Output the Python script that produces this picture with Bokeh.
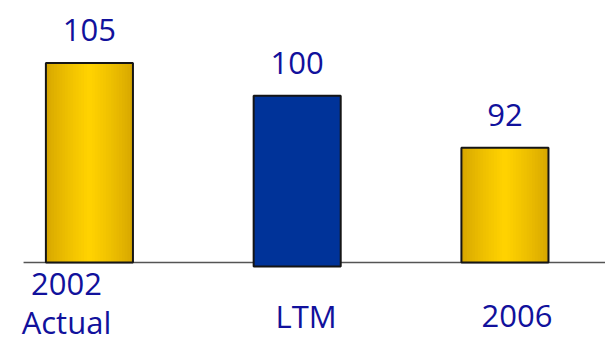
import numpy as np
from bokeh.plotting import figure
from bokeh.models import ColumnDataSource, Range1d
from bokeh.core.properties import value
from bokeh.embed import file_html
from bokeh.resources import INLINE

# ---- data ----
categories = ["2002\nActual", "LTM", "2006"]
values = [105, 100, 92]
value_labels = ["105", "100", "92"]
bar_kind = ["gold", "blue", "gold"]

# ---- layout / style ----
BASE = 74.4            # truncated value axis baseline
BAR_W = 0.419
label_dx = [-23, 9, 12]      # px offsets of category labels
label_dy = [21, 53, 53]      # px below baseline of first line
LINE_H = 38
VAL_DY = -33
TEXT_COLOR = "#11119c"
FONT = "Open Sans"
FSIZE = "31px"

xs = list(range(len(categories)))

p = figure(width=605, height=337,
           x_range=Range1d(-0.428, 2.484), y_range=Range1d(62.9, 114.6),
           output_backend="svg", toolbar_location=None, min_border=0)
p.axis.visible = False
p.grid.visible = False
p.outline_line_color = None
p.background_fill_color = "white"

# baseline
p.segment(x0=[-0.317], y0=[BASE], x1=[2.484], y1=[BASE],
          line_color="#555555", line_width=1.5)

# gold bars with simulated horizontal gradient
gold_x = [x for x, k in zip(xs, bar_kind) if k == "gold"]
gold_top = [v for v, k in zip(values, bar_kind) if k == "gold"]
edge = np.array([0xd6, 0xa6, 0x00], dtype=float)
center = np.array([0xff, 0xd2, 0x00], dtype=float)
N = 16
for k in range(N):
    frac = 1 - k / N
    t = (k / (N - 1)) ** 0.8
    c = edge + (center - edge) * t
    col = "#%02x%02x%02x" % tuple(int(round(v)) for v in c)
    p.vbar(x=gold_x, top=gold_top, bottom=BASE, width=BAR_W * frac,
           fill_color=col, line_color=None)

# blue bar
blue_x = [x for x, k in zip(xs, bar_kind) if k == "blue"]
blue_top = [v for v, k in zip(values, bar_kind) if k == "blue"]
p.vbar(x=blue_x, top=blue_top, bottom=BASE - 0.6, width=BAR_W,
       fill_color="#003399", line_color=None)

# outlines
bottoms = [BASE - 0.6 if k == "blue" else BASE for k in bar_kind]
p.vbar(x=xs, top=values, bottom=bottoms, width=BAR_W,
       fill_color=None, line_color="#151515", line_width=2)

# value labels
p.text(x=xs, y=values, text=value_labels, text_align="center",
       text_baseline="alphabetic", y_offset=VAL_DY,
       text_font=value(FONT), text_font_size=FSIZE, text_color=TEXT_COLOR)

# category labels
lx, ly, lt, ldx, ldy = [], [], [], [], []
for i, cat in enumerate(categories):
    for j, line in enumerate(cat.split("\n")):
        lx.append(xs[i]); ly.append(BASE); lt.append(line)
        ldx.append(label_dx[i]); ldy.append(label_dy[i] + j * LINE_H)
src = ColumnDataSource(dict(x=lx, y=ly, text=lt, dx=ldx, dy=ldy))
p.text(x="x", y="y", text="text", x_offset="dx", y_offset="dy", source=src,
       text_align="center", text_baseline="alphabetic",
       text_font=value(FONT), text_font_size=FSIZE, text_color=TEXT_COLOR)

open("out.html", "w").write(file_html(p, INLINE))
